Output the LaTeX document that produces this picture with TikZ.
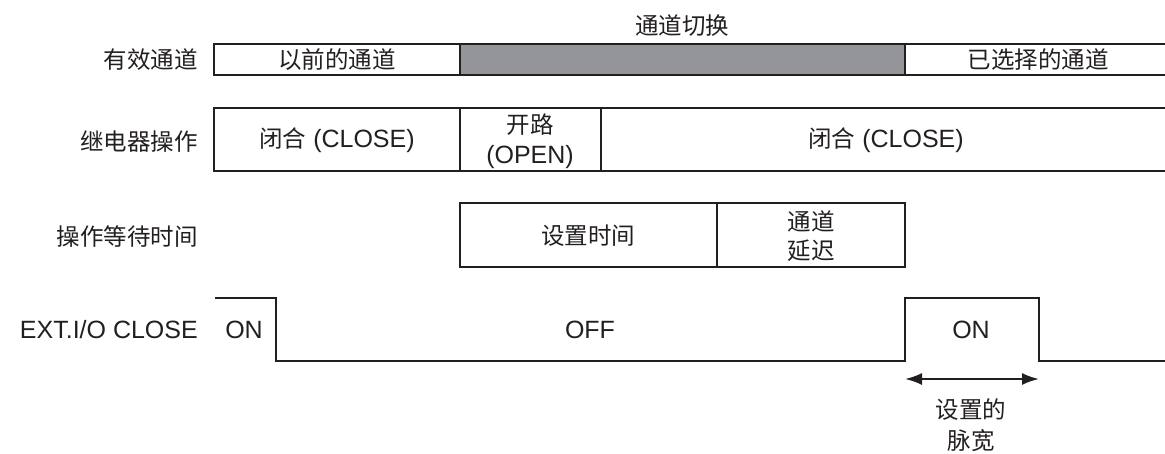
\documentclass[tikz,border=0pt]{standalone}
\usepackage{fontspec}
\setmainfont{Liberation Sans}
\newfontfamily\cjk[Scale=0.94]{Noto Sans CJK SC}
\usetikzlibrary{arrows.meta}
\definecolor{ink}{HTML}{231F20}
\definecolor{shade}{HTML}{939598}
\begin{document}
\begin{tikzpicture}[x=1pt,y=-1pt,
  wire/.style={draw=ink,line width=2pt},
  txt/.style={text=ink,font=\fontsize{25}{30}\selectfont,inner sep=0pt,align=center},
  lbl/.style={txt,anchor=east},
  dim/.style={draw=ink,line width=2pt,{Latex[length=17pt,width=12pt]}-{Latex[length=17pt,width=12pt]}}]
\useasboundingbox (0,0) rectangle (1165,453);
% ---------- row 1: active channel
\path[fill=shade] (460,44) rectangle (905,75);
\draw[wire] (1165,44) -- (214,44) -- (214,75) -- (1165,75);
\draw[wire] (460,44) -- (460,75);
\draw[wire] (905,44) -- (905,75);
\node[txt] (prev) at (337,60) {\cjk 以前的通道};
\node[txt] (sel) at (1038,60) {\cjk 已选择的通道};
\node[txt] (switch) at (682,26) {\cjk 通道切换};
\node[lbl] (l1) at (198,60) {\cjk 有效通道};
% ---------- row 2: relay operation
\draw[wire] (1165,108) -- (214,108) -- (214,171) -- (1165,171);
\draw[wire] (460,108) -- (460,171);
\draw[wire] (601,108) -- (601,171);
\node[txt] (close1) at (337,140) {{\cjk 闭合} (CLOSE)};
\node[txt] (open) at (530,141) {{\cjk 开路}\\[0pt](OPEN)};
\node[txt] (close2) at (886,140) {{\cjk 闭合} (CLOSE)};
\node[lbl] (l2) at (198,142) {\cjk 继电器操作};
% ---------- row 3: operation wait time
\draw[wire] (460,203) rectangle (905,267);
\draw[wire] (717,203) -- (717,267);
\node[txt] (settime) at (588,236) {\cjk 设置时间};
\node[txt] (chdelay) at (811,236) {\cjk 通道\\[-1pt]\cjk 延迟};
\node[lbl] (l3) at (198,237) {\cjk 操作等待时间};
% ---------- row 4: EXT.I/O CLOSE
\coordinate (s0) at (215,298);
\coordinate (f1) at (276,298);
\coordinate (r1) at (905,361);
\coordinate (f2) at (1039,298);
\coordinate (s1) at (1165,361);
\draw[wire] (s0) -- (f1) |- (r1) |- (f2) |- (s1);
\node[txt] (on1) at (244,330) {ON};
\node[txt] (off) at (590,330) {OFF};
\node[txt] (on2) at (971,330) {ON};
\node[lbl] (l4) at (198,330) {EXT.I/O CLOSE};
\coordinate (a1) at (905,379);
\coordinate (a2) at (1039,379);
\draw[dim] (a1) -- (a2);
\node[txt] (pw) at (971,425) {\cjk 设置的\\[1pt]\cjk 脉宽};
\end{tikzpicture}
\end{document}
